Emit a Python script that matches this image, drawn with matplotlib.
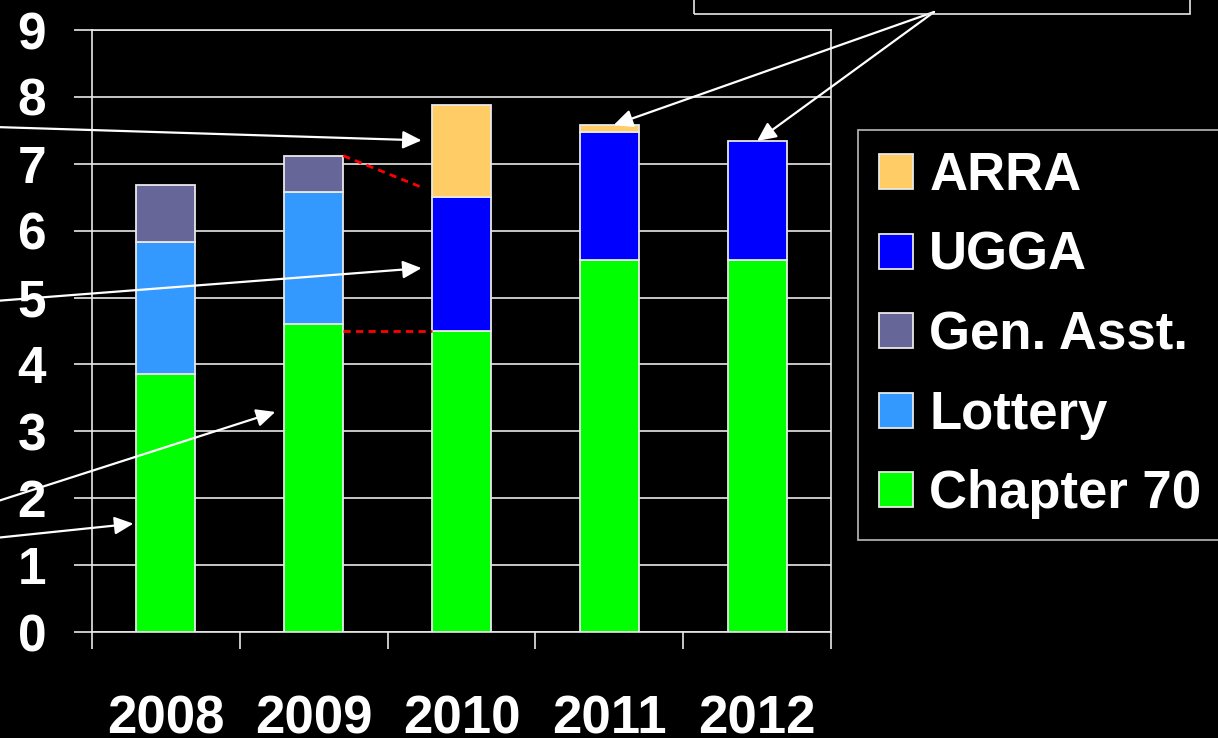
import matplotlib
matplotlib.use("Agg")
import matplotlib.pyplot as plt
import numpy as np
from matplotlib.patches import Rectangle

# funding by source, per year
years = ['2008', '2009', '2010', '2011', '2012']
chapter70 = [3.86, 4.60, 4.50, 5.56, 5.56]
lottery = [1.97, 1.98, 0, 0, 0]
gen_asst = [0.86, 0.54, 0, 0, 0]
ugga = [0, 0, 2.01, 1.91, 1.78]
arra = [0, 0, 1.37, 0.11, 0]

series = [('Chapter 70', chapter70, '#00FF00'),
          ('Lottery', lottery, '#3399FF'),
          ('Gen. Asst.', gen_asst, '#666699'),
          ('UGGA', ugga, '#0000FF'),
          ('ARRA', arra, '#FFCC66')]

plt.rcParams['font.family'] = ['Liberation Sans', 'DejaVu Sans']
plt.rcParams['font.weight'] = 'bold'

W, H = 1218, 738
fig = plt.figure(figsize=(W / 100, H / 100), dpi=100, facecolor='black')
ax = fig.add_axes([92 / W, 1 - 632 / H, (831 - 92) / W, (632 - 30) / H])
ax.set_facecolor('black')

x = np.arange(len(years))
bw = 0.4
bottom = np.zeros(len(years))
handles = {}
for name, vals, col in series:
    vals = np.array(vals, dtype=float)
    keep = vals > 0
    b = ax.bar(x[keep], vals[keep], bw, bottom=bottom[keep], color=col,
               edgecolor='#e8e8e8', linewidth=1.3, zorder=3, label=name)
    handles[name] = b
    bottom += vals

ax.set_xlim(-0.5, len(years) - 0.5)
ax.set_ylim(0, 9)
ax.set_yticks(range(10))
ax.set_xticks(x)
ax.set_xticklabels(years)
ax.set_xticks(np.arange(-0.5, len(years)), minor=True)
ax.tick_params(axis='x', which='major', length=0, pad=45, labelsize=38, colors='white')
ax.tick_params(axis='x', which='minor', length=12, width=1.2, color='#e8e8e8', direction='out')
ax.tick_params(axis='y', length=13, width=1.2, color='#e8e8e8', pad=20,
               labelsize=37, labelcolor='white', direction='out')
ax.yaxis.grid(True, color='#e8e8e8', linewidth=1.2, zorder=0)
ax.set_axisbelow(True)
for s in ax.spines.values():
    s.set_color('#e8e8e8')
    s.set_linewidth(1.2)

# red dashed links between 2009 and 2010
top09 = chapter70[1] + lottery[1] + gen_asst[1]
ax.plot([1 + bw / 2, 2 - bw / 2 - 0.06], [top09, top09 - 0.48], color='red',
        linestyle=(0, (2.6, 1.9)), linewidth=2, zorder=4)
ax.plot([1 + bw / 2, 2 - bw / 2], [chapter70[2], chapter70[2]], color='red',
        linestyle=(0, (2.6, 1.9)), linewidth=2, zorder=4)

# arrows coming from the (cropped) callouts
aprops = dict(arrowstyle='-|>,head_length=0.95,head_width=0.45', mutation_scale=12,
              color='white', lw=1.6, shrinkA=0, shrinkB=0)
left_arrows = [((-5, 127), (1.73, 7.35)),
               ((-5, 301), (1.73, 5.44)),
               ((-5, 502), (0.74, 3.29)),
               ((-5, 538), (-0.22, 1.62))]
for (px, py), tip in left_arrows:
    ax.annotate('', xy=tip, xycoords='data', xytext=(px, H - py),
                textcoords='figure pixels', arrowprops=aprops, annotation_clip=False)
for tip in [(3.03, arra[3] + ugga[3] + chapter70[3]), (4.0, ugga[4] + chapter70[4])]:
    ax.annotate('', xy=tip, xycoords='data', xytext=(934, H - 12),
                textcoords='figure pixels', arrowprops=aprops, annotation_clip=False)

# partially visible callout box at the top
fig.patches.append(Rectangle((694 / W, 1 - 14 / H), (1190 - 694) / W, 0.05,
                             transform=fig.transFigure, fill=False,
                             edgecolor='#e8e8e8', linewidth=1.2))

order = ['ARRA', 'UGGA', 'Gen. Asst.', 'Lottery', 'Chapter 70']
leg = fig.legend([handles[n] for n in order], order, loc='upper left',
                 bbox_to_anchor=(858 / W, 1 - 130 / H), fontsize=38,
                 frameon=True, fancybox=False, facecolor='black',
                 edgecolor='#e8e8e8', labelcolor='white', handlelength=0.65,
                 handleheight=0.65, handletextpad=0.3, labelspacing=0.56,
                 borderpad=0.4, borderaxespad=0)
leg.get_frame().set_linewidth(1.2)

fig.savefig('out.png', dpi=100, facecolor='black')
